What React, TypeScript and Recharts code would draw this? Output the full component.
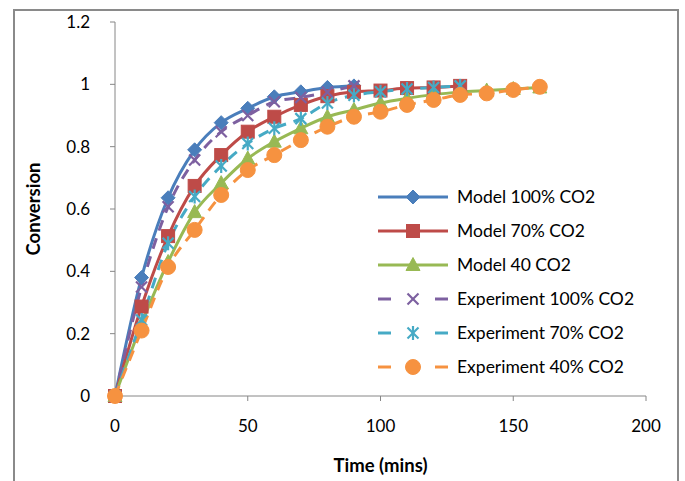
import React from "react";
import { LineChart, Line, XAxis, YAxis } from "recharts";

const times = [0, 10, 20, 30, 40, 50, 60, 70, 80, 90, 100, 110, 120, 130, 140, 150, 160];
const model100 = [0, 0.38, 0.636, 0.79, 0.877, 0.923, 0.96, 0.976, 0.99, 0.995];
const model70 = [0, 0.287, 0.513, 0.674, 0.773, 0.848, 0.896, 0.934, 0.962, 0.976, 0.98, 0.988, 0.99, 0.995];
const model40 = [0, 0.23, 0.43, 0.59, 0.683, 0.762, 0.816, 0.859, 0.896, 0.918, 0.94, 0.955, 0.967, 0.975, 0.98, 0.985, 0.99];
const exp100 = [0, 0.35, 0.607, 0.757, 0.848, 0.9, 0.944, 0.958, 0.975, 0.995];
const exp70 = [0, 0.244, 0.49, 0.64, 0.738, 0.81, 0.859, 0.89, 0.94, 0.965, 0.976, 0.985, 0.99, 0.995];
const exp40 = [0, 0.21, 0.414, 0.533, 0.645, 0.725, 0.773, 0.821, 0.864, 0.896, 0.912, 0.934, 0.95, 0.966, 0.971, 0.982, 0.992];

const xTicks = [0, 50, 100, 150, 200];
const yTicks = [0, 0.2, 0.4, 0.6, 0.8, 1, 1.2];

const toData = (vals: number[]) => vals.map((v, i) => ({ t: times[i], v }));

const FONT = "Lato, 'Open Sans', sans-serif";

type MarkerKind = "diamond" | "square" | "triangle" | "x" | "star" | "circle";

const drawMarker = (kind: MarkerKind, cx: number, cy: number, color: string, key?: string) => {
  switch (kind) {
    case "diamond":
      return <polygon key={key} points={`${cx},${cy - 7} ${cx + 7},${cy} ${cx},${cy + 7} ${cx - 7},${cy}`} fill={color} stroke={color} strokeWidth={1} />;
    case "square":
      return <rect key={key} x={cx - 6.5} y={cy - 6.5} width={13} height={13} fill={color} stroke={color} strokeWidth={1} />;
    case "triangle":
      return <polygon key={key} points={`${cx},${cy - 7.5} ${cx + 7},${cy + 5.5} ${cx - 7},${cy + 5.5}`} fill={color} stroke={color} strokeWidth={1} />;
    case "x":
      return (
        <g key={key} stroke={color} strokeWidth={2.2}>
          <line x1={cx - 5.5} y1={cy - 5.5} x2={cx + 5.5} y2={cy + 5.5} />
          <line x1={cx - 5.5} y1={cy + 5.5} x2={cx + 5.5} y2={cy - 5.5} />
        </g>
      );
    case "star":
      return (
        <g key={key} stroke={color} strokeWidth={2.2}>
          <line x1={cx - 5.5} y1={cy - 5.5} x2={cx + 5.5} y2={cy + 5.5} />
          <line x1={cx - 5.5} y1={cy + 5.5} x2={cx + 5.5} y2={cy - 5.5} />
          <line x1={cx} y1={cy - 7} x2={cx} y2={cy + 7} />
        </g>
      );
    case "circle":
    default:
      return <circle key={key} cx={cx} cy={cy} r={7.5} fill={color} stroke={color} strokeWidth={1} />;
  }
};

const makeDot = (kind: MarkerKind, color: string) => (props: any) => {
  const { cx, cy, index } = props;
  if (cx == null || cy == null) return <g key={`d-${index}`} />;
  return drawMarker(kind, cx, cy, color, `${kind}-${index}`);
};

const series = [
  { name: "Model 100% CO2", values: model100, color: "#4A7EBB", marker: "diamond" as MarkerKind, dashed: false },
  { name: "Model 70% CO2", values: model70, color: "#BE4B48", marker: "square" as MarkerKind, dashed: false },
  { name: "Model 40 CO2", values: model40, color: "#98B954", marker: "triangle" as MarkerKind, dashed: false },
  { name: "Experiment 100% CO2", values: exp100, color: "#7D60A0", marker: "x" as MarkerKind, dashed: true },
  { name: "Experiment 70% CO2", values: exp70, color: "#46AAC5", marker: "star" as MarkerKind, dashed: true },
  { name: "Experiment 40% CO2", values: exp40, color: "#F69240", marker: "circle" as MarkerKind, dashed: true },
];

const LegendBox = () => (
  <svg width={300} height={210} style={{ display: "block" }}>
    {series.map((s, i) => {
      const y = 17 + 34 * i;
      return (
        <g key={s.name}>
          {s.dashed ? (
            <g stroke={s.color} strokeWidth={3}>
              <line x1={8} x2={21} y1={y} y2={y} />
              <line x1={65} x2={78} y1={y} y2={y} />
            </g>
          ) : (
            <line x1={8} x2={78} y1={y} y2={y} stroke={s.color} strokeWidth={3} />
          )}
          {drawMarker(s.marker, 43, y, s.color)}
          <text x={87} y={y} dy="0.35em" fontSize={17.5} fontFamily={FONT} fill="#000">
            {s.name}
          </text>
        </g>
      );
    })}
  </svg>
);

export default function App() {
  return (
    <div style={{ position: "absolute", left: 0, top: 0, width: 685, height: 481, background: "#fff", overflow: "hidden" }}>
      <div
        style={{
          position: "absolute",
          left: 13,
          top: 9,
          width: 662,
          height: 480,
          border: "2px solid #8a8a8a",
          boxSizing: "content-box",
        }}
      />
      <div style={{ position: "absolute", left: 0, top: 0 }}>
        <LineChart width={685} height={481} margin={{ top: 22, right: 39, bottom: 25, left: 0 }}>
          <XAxis
            type="number"
            dataKey="t"
            domain={[0, 200]}
            ticks={xTicks}
            allowDuplicatedCategory={false}
            stroke="#868686"
            tickLine={{ stroke: "#868686" }}
            tickSize={5}
            tickMargin={19}
            height={60}
            tick={{ fill: "#000", fontSize: 17, fontFamily: FONT }}
            label={{ value: "Time (mins)", position: "insideBottom", offset: -16, style: { fontWeight: "bold", fontSize: 18.5, fill: "#000", fontFamily: FONT } }}
          />
          <YAxis
            type="number"
            domain={[0, 1.2]}
            ticks={yTicks}
            width={115}
            stroke="#868686"
            tickLine={{ stroke: "#868686" }}
            tickSize={5}
            tickMargin={20}
            tick={{ fill: "#000", fontSize: 17, fontFamily: FONT }}
            label={{ value: "Conversion", angle: -90, position: "insideLeft", offset: 33, style: { textAnchor: "middle", fontWeight: "bold", fontSize: 18.5, fill: "#000", fontFamily: FONT } }}
          />
          {series.map((s) => (
            <Line
              key={s.name}
              name={s.name}
              data={toData(s.values)}
              dataKey="v"
              type="monotone"
              stroke={s.color}
              strokeWidth={3}
              strokeDasharray={s.dashed ? "11 8" : undefined}
              dot={makeDot(s.marker, s.color)}
              activeDot={false}
              isAnimationActive={false}
            />
          ))}
        </LineChart>
      </div>
      <div style={{ position: "absolute", left: 370, top: 180 }}>
        <LegendBox />
      </div>
    </div>
  );
}
